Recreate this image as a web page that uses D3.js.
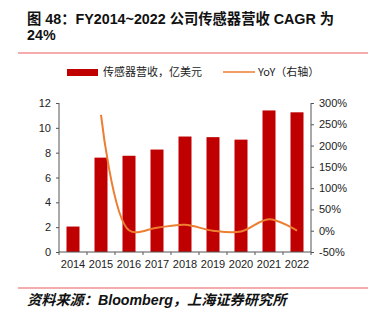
<!DOCTYPE html>
<html>
<head>
<meta charset="utf-8">
<script src="https://cdn.jsdelivr.net/npm/d3@7"></script>
<style>
  body { margin:0; background:#fff; }
  svg { display:block; font-family: "Liberation Sans", Arial, "Noto Sans CJK SC", sans-serif; }
</style>
</head>
<body>
<div id="chart"></div>
<script>
// data
var years = ["2014","2015","2016","2017","2018","2019","2020","2021","2022"];
var revenue = [2.05, 7.6, 7.75, 8.25, 9.3, 9.25, 9.05, 11.4, 11.25];
var yoy = [null, 272, 1, 7, 14, 0, -2, 27, 0];
var leftTicks = [0, 2, 4, 6, 8, 10, 12];
var rightTicks = [-50, 0, 50, 100, 150, 200, 250, 300];

var width = 374, height = 321;
var plot = { left: 59, right: 311, top: 103, bottom: 252 };

var svg = d3.select("#chart").append("svg")
  .attr("width", width).attr("height", height);

// title
var title = svg.append("g").attr("font-weight", "bold").attr("font-size", 14.3).attr("fill", "#111");
title.append("text").attr("x", 27).attr("y", 24).text("图 48：FY2014~2022 公司传感器营收 CAGR 为");
title.append("text").attr("x", 27).attr("y", 40).text("24%");
svg.append("line").attr("x1", 18).attr("x2", 368).attr("y1", 53).attr("y2", 53)
  .attr("stroke", "#f09090").attr("stroke-width", 1.5);

var xb = d3.scaleBand().domain(years).range([plot.left, plot.right]);
var yL = d3.scaleLinear().domain([0, 12]).range([plot.bottom, plot.top]);
var yR = d3.scaleLinear().domain([-50, 300]).range([plot.bottom, plot.top]);

// bars
svg.selectAll(".bar").data(revenue).enter().append("rect")
  .attr("class", "bar")
  .attr("x", function(d, i){ return xb(years[i]) + xb.bandwidth()/2 - 6.5; })
  .attr("width", 13)
  .attr("y", function(d){ return yL(d); })
  .attr("height", function(d){ return plot.bottom - yL(d); })
  .attr("fill", "#c00000");

// YoY line
var pts = [];
yoy.forEach(function(v, i){ if(v !== null) pts.push([xb(years[i]) + xb.bandwidth()/2, yR(v)]); });
svg.append("path")
  .attr("d", d3.line().curve(d3.curveCatmullRom.alpha(0.5))(pts))
  .attr("fill", "none").attr("stroke", "#ed7d31").attr("stroke-width", 2);

// axes
var axisL = d3.axisLeft(yL).tickValues(leftTicks).tickSize(3).tickPadding(5);
var gL = svg.append("g").attr("transform", "translate(" + plot.left + ",0)").call(axisL);

var axisR = d3.axisRight(yR).tickValues(rightTicks).tickSize(3).tickPadding(5)
  .tickFormat(function(d){ return d + "%"; });
var gR = svg.append("g").attr("transform", "translate(" + plot.right + ",0)").call(axisR);

var axisB = d3.axisBottom(xb).tickSize(0).tickPadding(8);
var gB = svg.append("g").attr("transform", "translate(0," + plot.bottom + ")").call(axisB);
// tick marks at category boundaries
gB.selectAll(".bnd").data(years.concat(["end"])).enter().append("line")
  .attr("class", "bnd")
  .attr("x1", function(d, i){ return plot.left + i * xb.bandwidth(); })
  .attr("x2", function(d, i){ return plot.left + i * xb.bandwidth(); })
  .attr("y1", 0).attr("y2", 3).attr("stroke", "#555");

[gL, gR, gB].forEach(function(g){
  g.selectAll(".domain").attr("stroke", "#555");
  g.selectAll(".tick line").attr("stroke", "#555");
  g.selectAll("text").attr("font-size", 11).attr("fill", "#222")
    .attr("font-family", "\"Liberation Sans\", Arial, sans-serif");
});
gL.select(".domain").attr("d", "M0," + plot.top + "V" + plot.bottom);
gR.select(".domain").attr("d", "M0," + plot.top + "V" + plot.bottom);
gB.select(".domain").attr("d", "M" + plot.left + ",0H" + plot.right);

// legend
var lg = svg.append("g").attr("font-size", 11).attr("fill", "#222")
  .attr("font-family", "\"Noto Sans CJK SC\", sans-serif");
lg.append("rect").attr("x", 67).attr("y", 69).attr("width", 31).attr("height", 7).attr("fill", "#c00000");
lg.append("text").attr("x", 103).attr("y", 76).text("传感器营收，亿美元");
lg.append("line").attr("x1", 223).attr("x2", 255).attr("y1", 72).attr("y2", 72)
  .attr("stroke", "#ed7d31").attr("stroke-width", 1.5);
lg.append("text").attr("x", 258).attr("y", 76).text("YoY（右轴）");

// footer
svg.append("line").attr("x1", 18).attr("x2", 368).attr("y1", 288).attr("y2", 288)
  .attr("stroke", "#f09090").attr("stroke-width", 1.5);
svg.append("text").attr("x", 27).attr("y", 305)
  .attr("font-size", 14.2).attr("font-weight", "bold").attr("font-style", "italic").attr("fill", "#111")
  .text("资料来源：Bloomberg，上海证券研究所");
</script>
</body>
</html>
